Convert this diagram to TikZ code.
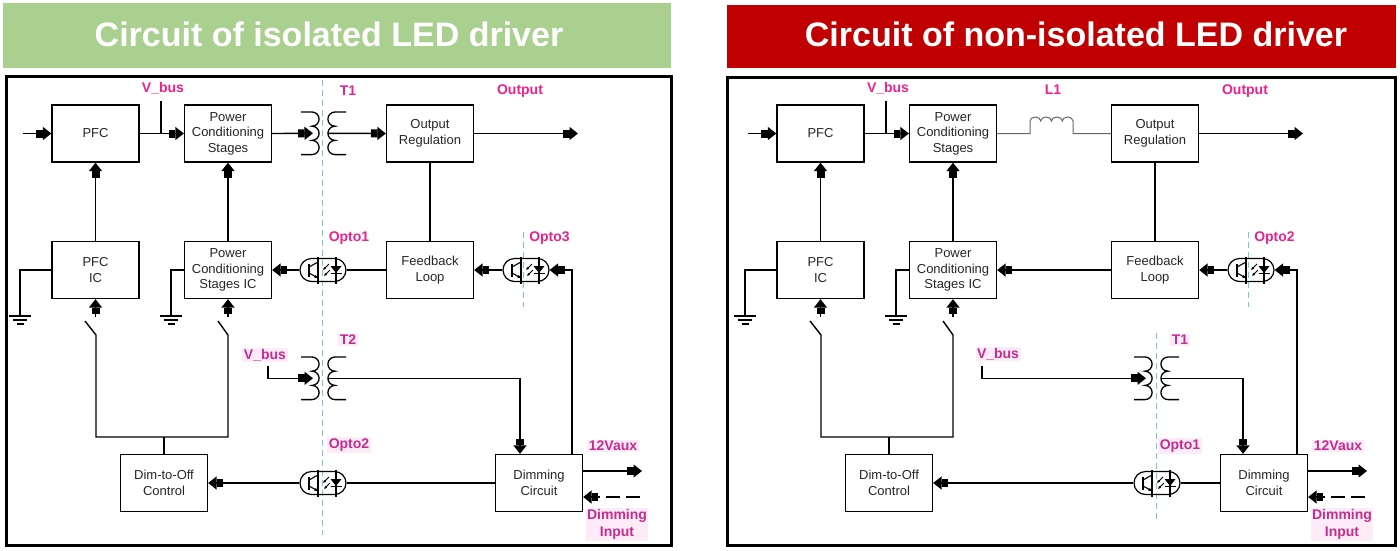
\documentclass[tikz,border=0pt]{standalone}
\usepackage{fontspec}
\setmainfont{Liberation Sans}
\usetikzlibrary{arrows.meta,shapes.misc}
\definecolor{hdrgreen}{RGB}{169,208,142}
\definecolor{hdrred}{RGB}{192,0,0}
\definecolor{lblpink}{RGB}{234,34,140}
\definecolor{lblpurp}{RGB}{196,44,142}
\definecolor{lblbg}{RGB}{253,236,248}
\definecolor{isoblue}{RGB}{125,196,216}
\tikzset{
 bx/.style={draw=black, line width=1.3pt, minimum width=87pt, minimum height=57pt, inner sep=0pt, align=center, font=\fontsize{13pt}{15.5pt}\selectfont, text=black!85},
 wr/.style={line width=1.4pt},
 ar/.style={line width=1.4pt, -{Rectangle[length=6.5pt,width=8pt]Triangle[length=8.5pt,width=13pt]}},
 cl/.style={line width=1.3pt},
 iso/.style={isoblue, line width=1pt, dash pattern=on 6pt off 4pt},
 lbl/.style={text=lblpink, font=\bfseries\fontsize{14pt}{17pt}\selectfont, inner sep=1pt, align=center},
 lblb/.style={lbl, text=lblpurp, fill=lblbg, inner sep=1.5pt},
 opto/.style={draw, rounded rectangle, minimum width=46pt, minimum height=23pt, inner sep=0pt, line width=1.2pt},
 hdr/.style={text=white, font=\bfseries\fontsize{34pt}{40pt}\selectfont, inner sep=0pt},
 pframe/.style={line width=3pt, draw=black},
 gst/.style={line width=1.2pt},
 photo/.style={line width=0.9pt, -{Latex[length=3pt,width=3pt]}},
}
% primary coil: name, base x, top y
\newcommand{\pcoil}[3]{%
  \draw[cl] (#2-11,#3) -- (#2,#3)
    arc[start angle=90,end angle=-90,radius=7.1]
    arc[start angle=90,end angle=-90,radius=7.1]
    arc[start angle=90,end angle=-90,radius=7.1] -- (#2-11,#3-42.6);
  \coordinate (#1) at (#2+1,#3-21.3);}
% secondary coil
\newcommand{\scoil}[3]{%
  \draw[cl] (#2+11,#3) -- (#2,#3)
    arc[start angle=90,end angle=270,radius=7.1]
    arc[start angle=90,end angle=270,radius=7.1]
    arc[start angle=90,end angle=270,radius=7.1] -- (#2+11,#3-42.6);
  \coordinate (#1) at (#2-7.1,#3-21.3);}
% optocoupler inside
\newcommand{\optoin}[2]{%
  \begin{scope}[shift={(#1,#2)}, line width=1.1pt]
    \draw (-14,-6.5) -- (-14,6.5);
    \draw (-14,3) -- (-5,8);
    \draw[-{Latex[length=3.5pt,width=3.5pt]}] (-14,-3) -- (-5,-8);
    \draw (-5,-13.5) -- (-5,13.5);
    \draw (13,-13.5) -- (13,13.5);
    \fill (7.5,4) -- (18.5,4) -- (13,-3) -- cycle;
    \draw (7.5,-3.5) -- (18.5,-3.5);
    \draw[photo] (6,6) -- (0,0);
    \draw[photo] (7,0) -- (1,-6);
  \end{scope}}
\newcommand{\gndsym}[1]{%
  \draw[gst] (#1) ++(-11,0) -- ++(22,0) ++(-18,-4) -- ++(14,0) ++(-10.5,-4) -- ++(7,0);}
\newcommand{\commonparts}[1]{%
  \node[bx] (PFC) at (95.5,-133.5) {PFC};
  \node[bx] (PCS) at (228,-133.5) {Power\\Conditioning\\Stages};
  \node[bx] (OR) at (430,-133.5) {Output\\Regulation};
  \node[bx] (PFCIC) at (95.5,-270) {PFC\\IC};
  \node[bx] (PCSIC) at (228,-270) {Power\\Conditioning\\Stages IC};
  \node[bx] (FB) at (430,-270) {Feedback\\Loop};
  \node[bx] (DTO) at (164,-483) {Dim-to-Off\\Control};
  \node[bx] (DC) at (539,-483) {Dimming\\Circuit};
  \coordinate (in) at (23,-133.5);
  \draw[ar] (in) -- (PFC.west);
  \draw[ar] (PFC.east) -- (PCS.west);
  \coordinate (vb) at (161,-101);
  \draw[wr] (vb) -- (vb |- PFC.east);
  \node[lbl] (vbl) at (163,-88) {V\_bus};
  \coordinate (out) at (578,-133.5);
  \draw[ar] (OR.east) -- (out);
  \node[lbl] (outl) at (520,-91) {Output};
  \draw[wr] (OR.south) -- (FB.north);
  \draw[ar] (PFCIC.north) -- (PFC.south);
  \draw[ar] (PCSIC.north) -- (PCS.south);
  \coordinate (g1) at (20,-316);
  \coordinate (g2) at (171,-316);
  \draw[wr] (PFCIC.west) -| (g1);
  \draw[wr] (PCSIC.west) -| (g2);
  \gndsym{g1}
  \gndsym{g2}
  \coordinate (s1) at (95.5,-317);
  \coordinate (s2) at (228,-317);
  \draw[ar] (s1) -- (PFCIC.south);
  \draw[ar] (s2) -- (PCSIC.south);
  \coordinate (j1) at (164,-437);
  \draw[wr] (85,-321) -- (96,-335) -- (96,-437) -- (228,-437) -- (228,-335) -- (218,-321);
  \draw[wr] (DTO.north) -- (DTO.north |- j1);
  \draw[iso] (523,-232) -- (523,-307);
  \node[opto] (oC) at (526,-270) {};
  \optoin{526}{-270}
  \node[lbl] (oCl) at (549.5,-238) {#1};
  \draw[ar] (oC.west) -- (FB.east);
  \draw[ar] ([xshift=33pt]DC.north) |- (oC.east);
  \coordinate (v12) at (642,-471);
  \draw[ar] (DC.east |- v12) -- (v12);
  \node[lblb] (v12l) at (613,-446) {12Vaux};
  \coordinate (din) at (640,-497);
  \draw[ar, dash pattern=on 14pt off 6pt] (din) -- (DC.east |- din);
  \node[lblb] (dinl) at (617,-524.5) {Dimming\\Input};
}
\begin{document}
\begin{tikzpicture}[x=1pt,y=1pt]
\useasboundingbox (0,0) rectangle (1400,-550);
\fill[white] (0,0) rectangle (1400,-550);
% headers
\fill[hdrgreen] (3,-3) rectangle (671,-68);
\node[hdr] (hL) at (329,-34.5) {Circuit of isolated LED driver};
\fill[hdrred] (727,-5) rectangle (1396,-68);
\node[hdr] (hR) at (1076,-34.5) {Circuit of non-isolated LED driver};
\draw[pframe] (6.5,-76) rectangle (671,-545);
\draw[pframe] (727.5,-77) rectangle (1395,-545);
% ===== left panel =====
\draw[iso] (322,-80) -- (322,-535);
\commonparts{Opto3}
\pcoil{T1p}{312}{-112}
\scoil{T1s}{335}{-112}
\draw[ar] (PCS.east) -- (T1p);
\draw[ar] (T1s) -- (OR.west);
\node[lbl] (t1l) at (348,-91) {T1};
\node[opto] (o1) at (323,-270) {};
\optoin{323}{-270}
\draw[wr] (FB.west) -- (o1.east);
\draw[ar] (o1.west) -- (PCSIC.east);
\node[lbl] (o1l) at (349,-238) {Opto1};
\pcoil{T2p}{312}{-357}
\scoil{T2s}{335}{-357}
\coordinate (vb2) at (268,-366);
\draw[ar] (vb2) |- (T2p);
\draw[ar] (T2s) -| ([xshift=-19pt]DC.north);
\node[lblb] (t2l) at (348,-340) {T2};
\node[lblb] (vb2l) at (265,-355) {V\_bus};
\node[opto] (o2) at (323,-483) {};
\optoin{323}{-483}
\draw[wr] (DC.west) -- (o2.east);
\draw[ar] (o2.west) -- (DTO.east);
\node[lblb] (o2l) at (349,-445) {Opto2};
% ===== right panel =====
\begin{scope}[xshift=725pt, name prefix=R-]
\commonparts{Opto2}
\end{scope}
\draw[line width=1pt, black!60] (R-PCS.east) -- (1030,-133.5) -- (1030,-121)
  arc[start angle=180,end angle=0,x radius=5.375,y radius=4]
  arc[start angle=180,end angle=0,x radius=5.375,y radius=4]
  arc[start angle=180,end angle=0,x radius=5.375,y radius=4]
  arc[start angle=180,end angle=0,x radius=5.375,y radius=4]
  -- (1073,-133.5) -- (R-OR.west);
\node[lbl] (L1l) at (1053,-90) {L1};
\draw[ar] (R-FB.west) -- (R-PCSIC.east);
\draw[iso] (1156,-333) -- (1156,-523);
\pcoil{R-Tp}{1145}{-357}
\scoil{R-Ts}{1168}{-357}
\coordinate (R-vb2) at (982,-366);
\draw[ar] (R-vb2) |- (R-Tp);
\draw[ar] (R-Ts) -| ([xshift=-21pt]R-DC.north);
\node[lblb] (R-t1l) at (1180,-340) {T1};
\node[lblb] (R-vb2l) at (998,-354) {V\_bus};
\node[opto] (R-oL) at (1157,-483) {};
\optoin{1157}{-483}
\draw[wr] (R-DC.west) -- (R-oL.east);
\draw[ar] (R-oL.west) -- (R-DTO.east);
\node[lblb] (R-oLl) at (1180,-446) {Opto1};
\end{tikzpicture}
\end{document}
